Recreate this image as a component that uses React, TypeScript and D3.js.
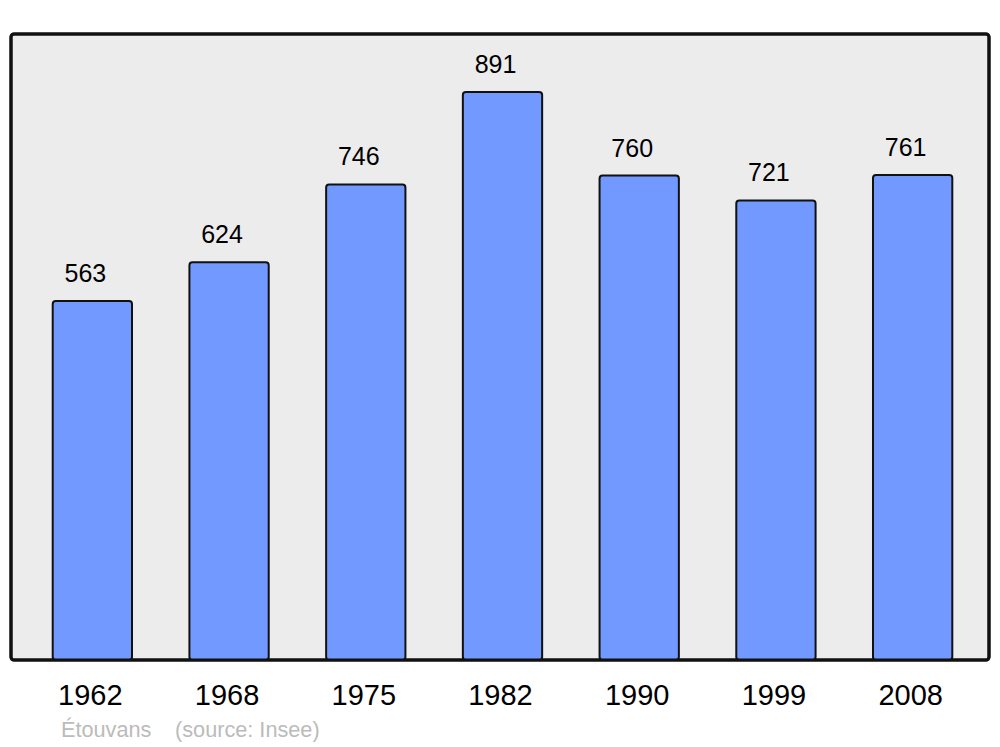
import React from "react";
import * as d3 from "d3";

const years = ["1962", "1968", "1975", "1982", "1990", "1999", "2008"];
const population = [563, 624, 746, 891, 760, 721, 761];
const placeName = "Étouvans";
const sourceText = "(source: Insee)";

export default function App() {
  const W = 1000, H = 747;
  const frame = { x0: 11, y0: 34, x1: 989, y1: 660 };
  const x = d3.scaleBand<string>().domain(years).range([24, 981]).paddingInner(0.42).paddingOuter(0.21);
  const y = d3.scaleLinear().domain([0, 982]).range([frame.y1, frame.y0]);
  const font = "'Liberation Sans', Arial, sans-serif";
  return (
    <svg width={W} height={H} style={{ position: "absolute", left: 0, top: 0 }}>
      <rect x={0} y={0} width={W} height={H} fill="#fff" />
      <rect x={frame.x0} y={frame.y0} width={frame.x1 - frame.x0} height={frame.y1 - frame.y0}
        rx={3} fill="#ececec" stroke="#111" strokeWidth={3} />
      {years.map((yr, i) => {
        const bx = x(yr)!;
        const bw = x.bandwidth();
        const top = y(population[i]);
        return (
          <g key={yr}>
            <rect x={bx} y={top} width={bw} height={frame.y1 - top} rx={3}
              fill="#7299ff" stroke="#111" strokeWidth={2} />
            <text x={bx + bw / 2 - 7} y={top - 19} textAnchor="middle" fontFamily={font} fontSize={25} fill="#000">
              {population[i]}
            </text>
            <text x={bx + bw / 2 - 2} y={705} textAnchor="middle" fontFamily={font} fontSize={29} fill="#000">
              {yr}
            </text>
          </g>
        );
      })}
      <rect x={frame.x0} y={frame.y0} width={frame.x1 - frame.x0} height={frame.y1 - frame.y0}
        rx={3} fill="none" stroke="#111" strokeWidth={3} />
      <text x={61} y={737} fontFamily={font} fontSize={21.7} fill="#bbb">{placeName}</text>
      <text x={175} y={737} fontFamily={font} fontSize={21.7} fill="#bbb">{sourceText}</text>
    </svg>
  );
}
